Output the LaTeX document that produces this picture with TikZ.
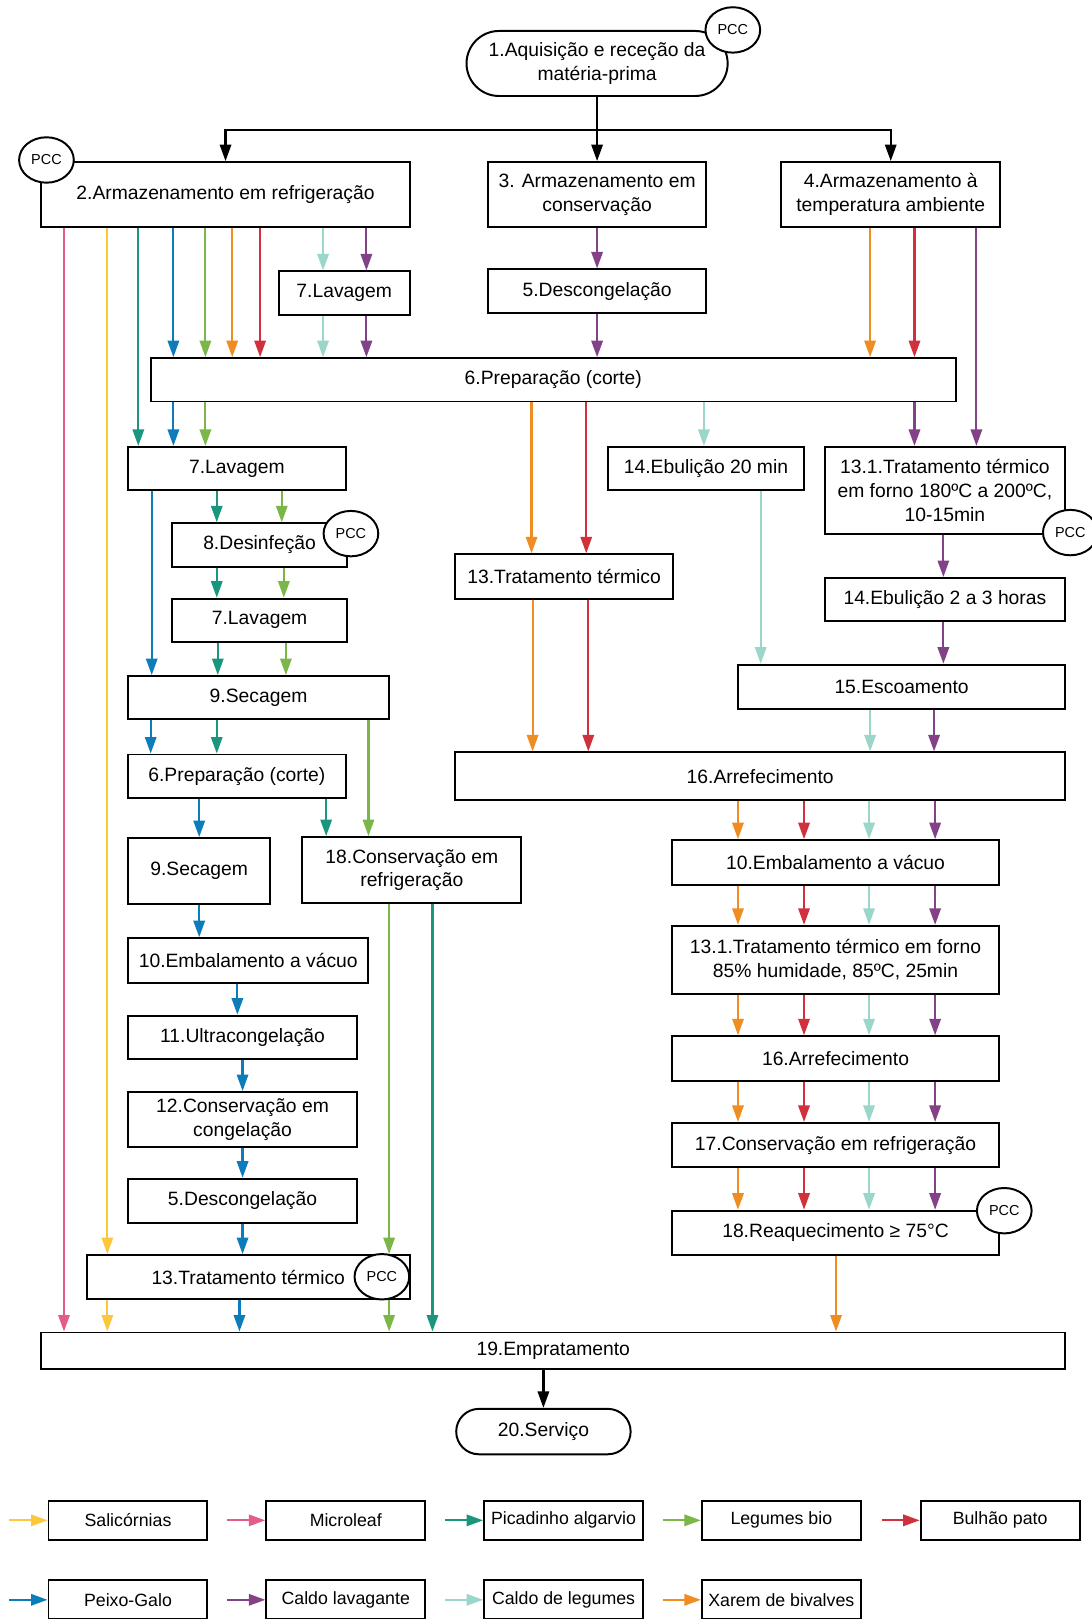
\documentclass[tikz,border=0pt]{standalone}
\usepackage{fontspec}
\setmainfont{Liberation Sans}
\usetikzlibrary{arrows.meta,shapes.geometric}

% product colours
\definecolor{salic}{HTML}{FCC63D}
\definecolor{micro}{HTML}{E35D86}
\definecolor{picad}{HTML}{19967D}
\definecolor{legum}{HTML}{7AB648}
\definecolor{bulhao}{HTML}{D1303D}
\definecolor{peixe}{HTML}{0C7CBA}
\definecolor{caldolav}{HTML}{834187}
\definecolor{caldoleg}{HTML}{9AD6CA}
\definecolor{xarem}{HTML}{EF8D22}

% a process box given by its corners: name, x1, y1, x2, y2, text
\newcommand\flowbox[6]{\node[box,minimum width={#4pt-#2pt},minimum height={#5pt-#3pt}] (#1) at ({(#2+#4)/2},{(#3+#5)/2}) {#6};}
% critical control point marker
\newcommand\pccmark[3]{\node[pccst] (#1) at (#2,#3) {PCC};}
% coloured product flow: colour, from, to, x position
\newcommand\fl[4]{\draw[flow,color=#1] (#2.south -| #4,0) -- (#3.north -| #4,0);}
% legend entry: name, x1, y1, colour, text
\newcommand\legentry[5]{\node[legbox] (#1) at ({#2+77},{#3}) {#5};
  \draw[flow,color=#4] ([xshift=-37pt]#1.west) -- (#1.west);}

\begin{document}
\begin{tikzpicture}[x=1pt,y=-1pt,
  box/.style={draw=black,line width=1.9pt,fill=white,inner sep=0pt,align=center,
    font=\fontsize{18.7pt}{23pt}\selectfont},
  term/.style={box,rounded corners=#1},
  pccst/.style={ellipse,draw=black,line width=1.9pt,fill=white,inner sep=0pt,
    minimum width=53pt,minimum height=44pt,font=\fontsize{14pt}{16pt}\selectfont},
  flow/.style={line width=2.1pt,-{Triangle[length=16pt,width=11pt]}},
  link/.style={line width=2.1pt,color=black},
  legbox/.style={box,minimum width=154pt,minimum height=38pt,
    font=\fontsize{17.2pt}{20pt}\selectfont}]
\useasboundingbox (0,0) rectangle (1058,1568.6);

% ---------- steps ----------
\node[term=31.5pt,minimum width=253pt,minimum height=63pt] (n1) at (578.5,61.5)
  {1.Aquisição e receção da\\matéria-prima};
\flowbox{n2}{40}{157}{397}{220}{2.Armazenamento em refrigeração}
\flowbox{n3}{473}{157}{684}{220}{3. Armazenamento em\\conservação}
\flowbox{n4}{757}{157}{969}{220}{4.Armazenamento à\\temperatura ambiente}
\flowbox{n7a}{270}{263}{397}{305}{7.Lavagem}
\flowbox{n5a}{473}{261}{684}{303}{5.Descongelação}
\flowbox{n6a}{146}{347}{926}{389}{6.Preparação (corte)}
\flowbox{n7b}{124}{433}{335}{475}{7.Lavagem}
\flowbox{n14a}{589}{433}{779}{475}{14.Ebulição 20 min}
\flowbox{n131a}{799}{433}{1032}{517}{13.1.Tratamento térmico\\em forno 180ºC a 200ºC,\\10-15min}
\flowbox{n8}{167}{507}{336}{549}{8.Desinfeção}
\flowbox{n13a}{441}{537}{652}{580}{13.Tratamento térmico}
\flowbox{n7c}{167}{580}{336}{622}{7.Lavagem}
\flowbox{n14b}{799}{560}{1032}{602}{14.Ebulição 2 a 3 horas}
\flowbox{n9a}{124}{655}{377}{697}{9.Secagem}
\flowbox{n15}{715}{644}{1032}{687}{15.Escoamento}
\flowbox{n6b}{124}{731}{335}{773}{6.Preparação (corte)}
\flowbox{n16a}{441}{729}{1032}{775}{16.Arrefecimento}
\flowbox{n9b}{124}{812}{262}{876}{9.Secagem}
\flowbox{n18c}{293}{811}{505}{875}{18.Conservação em\\refrigeração}
\flowbox{n10r}{651}{814}{968}{857}{10.Embalamento a vácuo}
\flowbox{n10l}{124}{909}{357}{952}{10.Embalamento a vácuo}
\flowbox{n131b}{651}{897}{968}{963}{13.1.Tratamento térmico em forno\\85\% humidade, 85ºC, 25min}
\flowbox{n11}{124}{984}{346}{1026}{11.Ultracongelação}
\flowbox{n16b}{651}{1004}{968}{1047}{16.Arrefecimento}
\flowbox{n12}{124}{1058}{346}{1111}{12.Conservação em\\congelação}
\flowbox{n17}{651}{1088}{968}{1131}{17.Conservação em refrigeração}
\flowbox{n5b}{124}{1142}{346}{1185}{5.Descongelação}
\flowbox{n18r}{651}{1173}{968}{1216}{18.Reaquecimento ≥ 75°C}
\flowbox{n13b}{84}{1216}{397}{1259}{13.Tratamento térmico}
\flowbox{n19}{40}{1291}{1032}{1326}{19.Empratamento}
\node[term=22pt,minimum width=169pt,minimum height=44pt] (n20) at (526.5,1387) {20.Serviço};

% ---------- critical control points ----------
\pccmark{p1}{710}{29}
\pccmark{p2}{45}{155}
\pccmark{p8}{340}{517}
\pccmark{p131}{1037}{516}
\pccmark{p13}{370}{1237}
\pccmark{p18}{973}{1173}

% ---------- reception split ----------
\coordinate (split) at (578.5,126);
\draw[link] (n1.south) -- (split);
\draw[link,-{Triangle[length=16pt,width=11pt]}] (split) -| (n2.north);
\draw[link,-{Triangle[length=16pt,width=11pt]}] (split) -| (n4.north);
\draw[link,-{Triangle[length=16pt,width=11pt]}] (split) -- (n3.north);

% ---------- flows out of refrigerated storage ----------
\fl{micro}{n2}{n19}{62}
\fl{salic}{n2}{n13b}{104}
\fl{picad}{n2}{n7b}{134}
\fl{peixe}{n2}{n6a}{168}
\fl{legum}{n2}{n6a}{199}
\fl{xarem}{n2}{n6a}{225}
\fl{bulhao}{n2}{n6a}{252}
\fl{caldoleg}{n2}{n7a}{313}
\fl{caldolav}{n2}{n7a}{355}
\fl{caldoleg}{n7a}{n6a}{313}
\fl{caldolav}{n7a}{n6a}{355}
\fl{caldolav}{n3}{n5a}{578.5}
\fl{caldolav}{n5a}{n6a}{578.5}
\fl{xarem}{n4}{n6a}{843}
\fl{bulhao}{n4}{n6a}{886}
\fl{caldolav}{n4}{n131a}{946}

% ---------- after preparation ----------
\fl{peixe}{n6a}{n7b}{168}
\fl{legum}{n6a}{n7b}{199}
\fl{xarem}{n6a}{n13a}{515}
\fl{bulhao}{n6a}{n13a}{568}
\fl{caldoleg}{n6a}{n14a}{682}
\fl{caldolav}{n6a}{n131a}{886}

% ---------- washing / disinfection branch ----------
\fl{peixe}{n7b}{n9a}{147}
\fl{picad}{n7b}{n8}{210}
\fl{legum}{n7b}{n8}{273}
\fl{picad}{n8}{n7c}{210}
\fl{legum}{n8}{n7c}{275}
\fl{picad}{n7c}{n9a}{211}
\fl{legum}{n7c}{n9a}{277}
\fl{peixe}{n9a}{n6b}{146}
\fl{picad}{n9a}{n6b}{210}
\fl{legum}{n9a}{n18c}{357}
\fl{peixe}{n6b}{n9b}{193}
\fl{picad}{n6b}{n18c}{316}
\fl{peixe}{n9b}{n10l}{193}
\fl{peixe}{n10l}{n11}{230}
\fl{peixe}{n11}{n12}{235}
\fl{peixe}{n12}{n5b}{235}
\fl{peixe}{n5b}{n13b}{235}
\fl{legum}{n18c}{n13b}{377}
\fl{picad}{n18c}{n19}{419}
\fl{salic}{n13b}{n19}{104}
\fl{peixe}{n13b}{n19}{232}
\fl{legum}{n13b}{n19}{377}

% ---------- cooking branch ----------
\fl{xarem}{n13a}{n16a}{516}
\fl{bulhao}{n13a}{n16a}{570}
\fl{caldoleg}{n14a}{n15}{737}
\fl{caldolav}{n131a}{n14b}{914}
\fl{caldolav}{n14b}{n15}{914}
\fl{caldoleg}{n15}{n16a}{843}
\fl{caldolav}{n15}{n16a}{905}
\foreach \a/\b in {n16a/n10r,n10r/n131b,n131b/n16b,n16b/n17,n17/n18r}{
  \fl{xarem}{\a}{\b}{715}
  \fl{bulhao}{\a}{\b}{779}
  \fl{caldoleg}{\a}{\b}{842}
  \fl{caldolav}{\a}{\b}{906}
}
\fl{xarem}{n18r}{n19}{810}

% ---------- service ----------
\draw[link,-{Triangle[length=16pt,width=11pt]}] (n19.south -| n20.north) -- (n20.north);

% ---------- legend ----------
\legentry{l1}{47}{1473}{salic}{Salicórnias}
\legentry{l2}{258}{1473}{micro}{Microleaf}
\legentry{l3}{469}{1473}{picad}{Picadinho algarvio}
\legentry{l4}{680}{1473}{legum}{Legumes bio}
\legentry{l5}{892}{1473}{bulhao}{Bulhão pato}
\legentry{l6}{47}{1550}{peixe}{Peixo-Galo}
\legentry{l7}{258}{1550}{caldolav}{Caldo lavagante}
\legentry{l8}{469}{1550}{caldoleg}{Caldo de legumes}
\legentry{l9}{680}{1550}{xarem}{Xarem de bivalves}
\end{tikzpicture}
\end{document}
